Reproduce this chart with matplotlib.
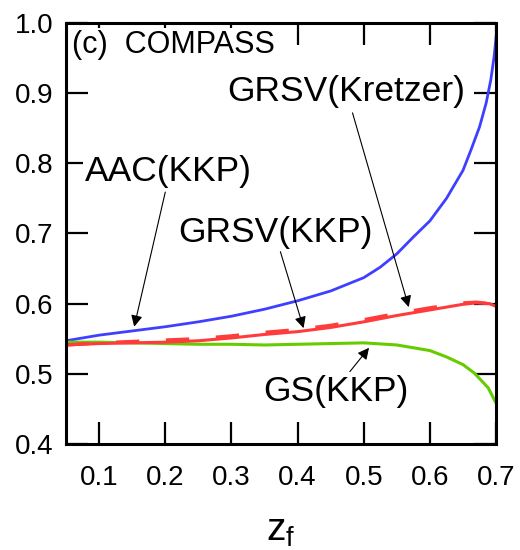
import matplotlib
matplotlib.use("Agg")
import matplotlib.pyplot as plt

plt.rcParams['font.family'] = ['Liberation Sans', 'DejaVu Sans']
plt.rcParams['mathtext.fontset'] = 'custom'
plt.rcParams['mathtext.rm'] = 'Liberation Sans'
plt.rcParams['mathtext.it'] = 'Liberation Sans'

# --- values ---
zf_aac = [0.05, 0.10, 0.15, 0.20, 0.25, 0.30, 0.35, 0.40, 0.45, 0.50, 0.525,
          0.55, 0.575, 0.60, 0.625, 0.65, 0.662, 0.675, 0.685, 0.692, 0.697, 0.70]
aac_kkp = [0.547, 0.555, 0.561, 0.567, 0.574, 0.582, 0.592, 0.604, 0.618, 0.637, 0.652,
           0.671, 0.695, 0.718, 0.750, 0.790, 0.819, 0.852, 0.886, 0.919, 0.952, 0.980]

zf_grsv = [0.05, 0.10, 0.15, 0.20, 0.25, 0.30, 0.35, 0.40, 0.45, 0.50,
           0.55, 0.60, 0.65, 0.67, 0.69, 0.70]
grsv_kkp = [0.541, 0.543, 0.544, 0.545, 0.547, 0.551, 0.556, 0.560, 0.566, 0.574,
            0.583, 0.591, 0.599, 0.601, 0.600, 0.596]
grsv_kretzer = [0.541, 0.544, 0.546, 0.548, 0.550, 0.554, 0.559, 0.563, 0.569, 0.577,
                0.586, 0.594, 0.601, 0.602, 0.600, 0.596]

zf_gs = [0.05, 0.10, 0.15, 0.20, 0.25, 0.30, 0.35, 0.40, 0.45, 0.50,
         0.55, 0.60, 0.625, 0.65, 0.667, 0.688, 0.70]
gs_kkp = [0.545, 0.545, 0.544, 0.543, 0.542, 0.542, 0.541, 0.542, 0.543, 0.544,
          0.541, 0.533, 0.524, 0.513, 0.501, 0.480, 0.458]

x_ticks = [0.1, 0.2, 0.3, 0.4, 0.5, 0.6, 0.7]
y_ticks = [0.4, 0.5, 0.6, 0.7, 0.8, 0.9, 1.0]

fig = plt.figure(figsize=(5.2, 5.5), dpi=100)
ax = fig.add_axes([0.127, 0.193, 0.827, 0.765])

ax.plot(zf_aac, aac_kkp, color='#3f3fff', lw=2.0)
ax.plot(zf_gs, gs_kkp, color='#66cc00', lw=2.2)
ax.plot(zf_grsv, grsv_kkp, color='#ff3b3b', lw=2.2)
ax.plot(zf_grsv, grsv_kretzer, color='#ff3b3b', lw=2.4, dashes=(7, 8))

ax.set_xlim(0.05, 0.7)
ax.set_ylim(0.4, 1.0)
ax.set_xticks(x_ticks)
ax.set_yticks(y_ticks)
ax.set_xticklabels(['%.1f' % v for v in x_ticks])
ax.set_yticklabels(['%.1f' % v for v in y_ticks])
ax.tick_params(direction='in', length=16, width=1.6, labelsize=20,
               top=True, right=True)
ax.tick_params(axis='x', pad=15)
ax.tick_params(axis='y', pad=9)
for s in ax.spines.values():
    s.set_linewidth(2.2)

ax.set_xlabel('z$_{\\mathrm{f}}$', fontsize=28, labelpad=16)

box = dict(facecolor='white', edgecolor='none', pad=1)
arrow = dict(arrowstyle='-|>', color='black', lw=0.8, mutation_scale=17,
             shrinkA=0, shrinkB=0)

ax.text(0.059, 0.969, '(c)  COMPASS', fontsize=22, ha='left', va='center',
        bbox=box, zorder=5)

ax.annotate('', xy=(0.153, 0.567), xytext=(0.200, 0.759), arrowprops=arrow)
ax.text(0.2045, 0.788, 'AAC(KKP)', fontsize=25.5, ha='center', va='center',
        bbox=box, zorder=5)

ax.annotate('', xy=(0.568, 0.595), xytext=(0.483, 0.872), arrowprops=arrow)
ax.text(0.473, 0.902, 'GRSV(Kretzer)', fontsize=25.5, ha='center', va='center',
        bbox=box, zorder=5)

ax.annotate('', xy=(0.409, 0.565), xytext=(0.374, 0.674), arrowprops=arrow)
ax.text(0.367, 0.702, 'GRSV(KKP)', fontsize=25.5, ha='center', va='center',
        bbox=box, zorder=5)

ax.annotate('', xy=(0.508, 0.537), xytext=(0.479, 0.503), arrowprops=arrow)
ax.text(0.4576, 0.474, 'GS(KKP)', fontsize=25.5, ha='center', va='center',
        bbox=box, zorder=5)

fig.savefig('out.png', dpi=100)
